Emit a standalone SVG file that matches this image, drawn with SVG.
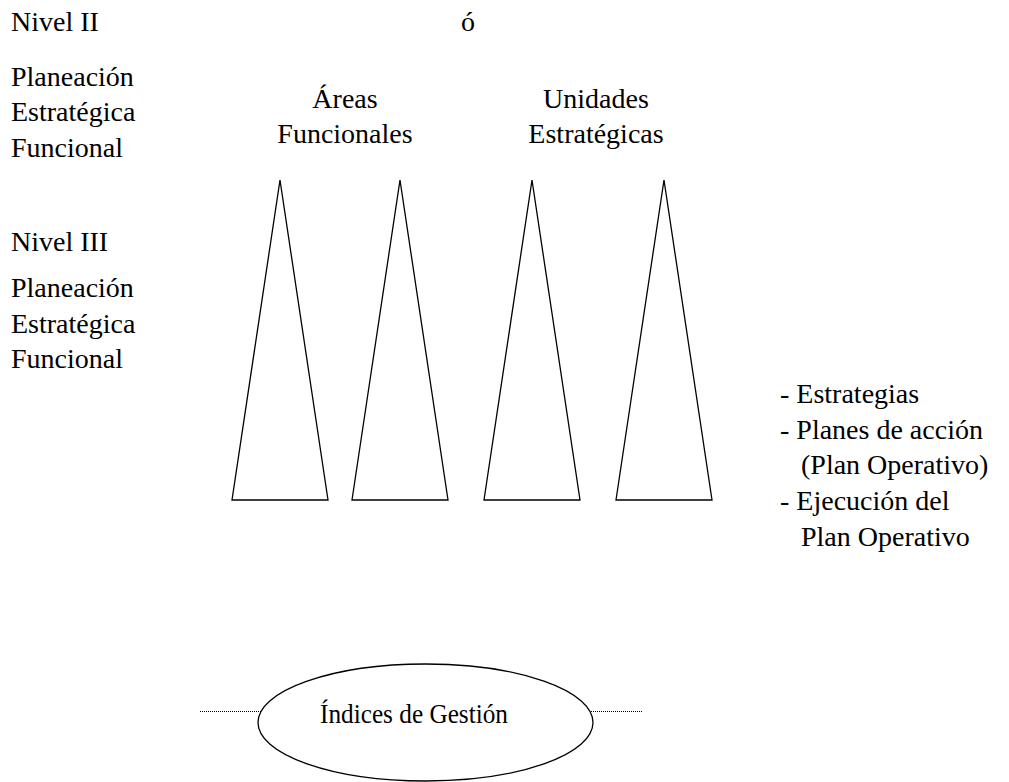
<svg xmlns="http://www.w3.org/2000/svg" width="1009" height="782" viewBox="0 0 1009 782" font-family="Liberation Serif" font-size="28">
  <defs>
    <!-- one tall narrow cone, apex at the origin -->
    <polygon id="cone" points="0,0 48,320 -48,320" fill="#fff" stroke="#000" stroke-width="1.3"/>
  </defs>
  <rect width="1009" height="782" fill="#fff"/>

  <!-- level labels on the left -->
  <g id="level-2">
    <text x="11" y="31">Nivel II</text>
    <text x="11" y="86">Planeación</text>
    <text x="11" y="121">Estratégica</text>
    <text x="11" y="157">Funcional</text>
  </g>
  <g id="or-mark">
    <text x="461" y="31">ó</text>
  </g>
  <g id="level-3">
    <text x="11" y="251">Nivel III</text>
    <text x="11" y="297">Planeación</text>
    <text x="11" y="333">Estratégica</text>
    <text x="11" y="368">Funcional</text>
  </g>

  <!-- column headings -->
  <g id="areas-funcionales" text-anchor="middle">
    <text x="345" y="108">Áreas</text>
    <text x="345" y="143">Funcionales</text>
  </g>
  <g id="unidades-estrategicas" text-anchor="middle">
    <text x="596" y="108">Unidades</text>
    <text x="596" y="143">Estratégicas</text>
  </g>

  <!-- activity list -->
  <g id="activities">
    <text x="780" y="403">- Estrategias</text>
    <text x="780" y="439">- Planes de acción</text>
    <text x="801" y="474">(Plan Operativo)</text>
    <text x="780" y="510">- Ejecución del</text>
    <text x="801" y="546">Plan Operativo</text>
  </g>

  <!-- the four cones -->
  <g id="cone-1"><use href="#cone" x="280" y="180"/></g>
  <g id="cone-2"><use href="#cone" x="400" y="180"/></g>
  <g id="cone-3"><use href="#cone" x="532" y="180"/></g>
  <g id="cone-4"><use href="#cone" x="664" y="180"/></g>

  <!-- dotted leaders either side of the ellipse -->
  <g id="connectors" stroke="#000" stroke-width="1" stroke-dasharray="1 1" fill="none">
    <line x1="200" y1="711.5" x2="262" y2="711.5"/>
    <line x1="591" y1="711.5" x2="643" y2="711.5"/>
  </g>

  <g id="indices-de-gestion">
    <ellipse cx="425.5" cy="722.5" rx="167.5" ry="58.5" fill="#fff" stroke="#000" stroke-width="1.3"/>
    <text x="320" y="723" textLength="188" lengthAdjust="spacingAndGlyphs">Índices de Gestión</text>
  </g>
</svg>
